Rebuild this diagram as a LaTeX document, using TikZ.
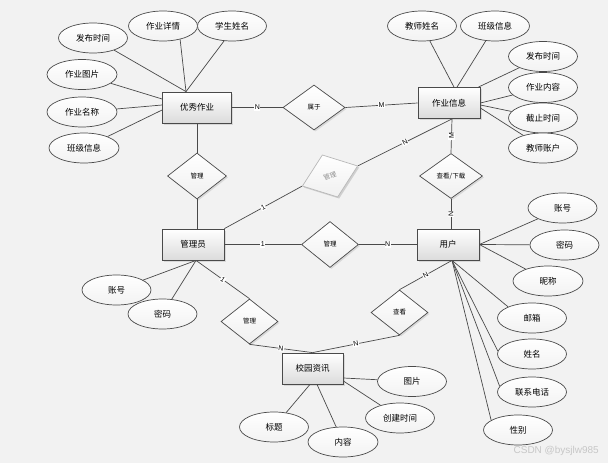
\documentclass[tikz,border=0pt]{standalone}
\usepackage{fontspec}
\setmainfont{Noto Sans CJK SC}
\newfontfamily\lat{Liberation Sans}
\usetikzlibrary{shapes.geometric,shadows,calc}
\definecolor{bg}{HTML}{F2F2F2}
\definecolor{ln}{HTML}{4A4A4A}
\begin{document}
\begin{tikzpicture}[x=1pt,y=-1pt,
  shd/.style={drop shadow={shadow xshift=1.5pt,shadow yshift=-1.5pt,opacity=0.22}},
  ent/.style={rectangle,draw=ln,line width=0.8pt,top color=white,bottom color=black!14,
    minimum width=62pt,minimum height=31pt,inner sep=0pt,font=\fontsize{8.5}{10}\selectfont,shd},
  rel/.style={diamond,draw=ln,line width=0.7pt,top color=white,bottom color=black!6,
    inner sep=0pt,font=\fontsize{6.5}{7}\selectfont,shd},
  att/.style={ellipse,draw=ln,line width=0.7pt,top color=white,bottom color=black!5,
    minimum width=69pt,minimum height=30pt,inner sep=0pt,font=\fontsize{8.5}{10}\selectfont},
  con/.style={draw=ln,line width=0.7pt},
  lab/.style={fill=white,inner sep=0.6pt,font=\lat\fontsize{7}{8}\selectfont}]
\fill[bg] (0,0) rectangle (608,463);
\useasboundingbox (0,0) rectangle (608,463);

% entities
\node[ent,minimum width=69pt] (yx) at (197,107.5) {优秀作业};
\node[ent] (zy) at (449,103) {作业信息};
\node[ent] (gly) at (193,244.5) {管理员};
\node[ent] (yh) at (448,244.5) {用户};
\node[ent,minimum width=61pt] (xy) at (312.5,368.5) {校园资讯};

% relationships
\node[rel,minimum width=62pt,minimum height=45pt] (sy) at (314,107.5) {属于};
\node[rel,minimum width=59pt,minimum height=46pt] (gl1) at (197,176) {管理};
\node[rel,draw=black!28,text=black!45,rotate=20,minimum width=59pt,minimum height=45pt,
  drop shadow={shadow xshift=1.5pt,shadow yshift=-1.5pt,opacity=0.1}] (gl2) at (330,176) {管理};
\node[rel,minimum width=63pt,minimum height=45pt] (ck) at (451,176) {查看/下载};
\node[rel,minimum width=57pt,minimum height=46pt] (gl3) at (330,244.5) {管理};
\node[rel,minimum width=57pt,minimum height=45pt] (gl4) at (249.5,321.5) {管理};
\node[rel,minimum width=57pt,minimum height=45pt] (ck2) at (399.5,312.5) {查看};

% helper points
\coordinate (yxT) at ($(yx.north)+(-11,0)$);
\coordinate (yxL1) at ($(yx.west)+(0,-8.5)$);
\coordinate (yxL2) at ($(yx.west)+(0,-2.5)$);
\coordinate (yxL3) at ($(yx.west)+(0,2.5)$);
\coordinate (zyT1) at ($(zy.north)+(5,0)$);
\coordinate (zyT2) at ($(zy.north)+(8,0)$);
\coordinate (zyS) at ($(zy.south)+(3,0)$);
\coordinate (zyR1) at ($(zy.north east)+(-2,0)$);
\coordinate (zyR2) at ($(zy.east)+(0,0)$);
\coordinate (zyR3) at ($(zy.east)+(0,2)$);
\coordinate (zyR4) at ($(zy.east)+(0,5)$);
\coordinate (glyB) at ($(gly.south)+(3,0)$);
\coordinate (yhB) at ($(yh.south)+(4,0)$);
\coordinate (xyR1) at ($(xy.east)+(0,9.5)$);
\coordinate (xyR2) at ($(xy.east)+(0,12.5)$);
\coordinate (xyB1) at ($(xy.south)+(4.5,0)$);
\coordinate (xyB2) at ($(xy.south)+(-2.5,0)$);

% attributes of 优秀作业
\node[att] (a1) at (93,38) {发布时间};
\node[att] (a2) at (163,26) {作业详情};
\node[att] (a3) at (232,26) {学生姓名};
\node[att,minimum width=70pt] (a4) at (82,74.5) {作业图片};
\node[att,minimum width=70pt] (a5) at (82,112) {作业名称};
\node[att,minimum width=70pt] (a6) at (84,148) {班级信息};
\draw[con] (a1) -- (yxT);
\draw[con] (a2.-38) -- (yxT);
\draw[con] (a3.-118) -- (yxT);
\draw[con] (a4) -- (yxL1);
\draw[con] (a5) -- (yxL2);
\draw[con] (a6) -- (yxL3);

% attributes of 作业信息
\node[att] (b1) at (422,26) {教师姓名};
\node[att] (b2) at (495,26) {班级信息};
\node[att] (b3) at (543,56.5) {发布时间};
\node[att] (b4) at (543,87.5) {作业内容};
\node[att] (b5) at (543,118) {截止时间};
\node[att] (b6) at (543,148) {教师账户};
\draw[con] (b1) -- (zyT1);
\draw[con] (b2) -- (zyT2);
\draw[con] (b3) -- (zyR1);
\draw[con] (b4) -- (zyR2);
\draw[con] (b5) -- (zyR3);
\draw[con] (b6) -- (zyR4);

% attributes of 管理员
\node[att] (c1) at (116.5,290) {账号};
\node[att] (c2) at (162.5,314) {密码};
\draw[con] (c1) -- (glyB);
\draw[con] (c2) -- (glyB);

% attributes of 用户
\node[att] (d1) at (562.5,208) {账号};
\node[att] (d2) at (564.5,245) {密码};
\node[att,minimum width=70pt] (d3) at (548,281) {昵称};
\node[att] (d4) at (532,318) {邮箱};
\node[att] (d5) at (532,354) {姓名};
\node[att] (d6) at (532,392) {联系电话};
\node[att] (d7) at (518,430) {性别};
\draw[con] (d1) -- (yh.east);
\draw[con] (d2) -- (yh.east);
\draw[con] (d3) -- (yh.east);
\draw[con] (d4.155) -- (yhB);
\draw[con] (d5.175) -- (yhB);
\draw[con] (d6.170) -- (yhB);
\draw[con] (d7.160) -- (yhB);

% attributes of 校园资讯
\node[att] (e1) at (412,381.5) {图片};
\node[att] (e2) at (400,418) {创建时间};
\node[att,minimum width=70pt] (e3) at (343,442) {内容};
\node[att] (e4) at (274,427) {标题};
\draw[con] (e1) -- (xyR1);
\draw[con] (e2) -- (xyR2);
\draw[con] (e3) -- (xyB1);
\draw[con] (e4) -- (xyB2);

% relationship connectors
\draw[con] (yx.east) -- node[lab]{N} (sy.west);
\draw[con] (sy.east) -- node[lab]{M} (zy.west);
\draw[con] (yx.south) -- (gl1.north);
\draw[con] (gl1.south) -- (gly.north -| gl1.south);
\draw[con] (gly.north east) -- node[lab,sloped]{1} (gl2.west);
\draw[con] (gl2.east) -- node[lab,sloped]{N} (zyS);
\draw[con] (zyS) -- node[lab,rotate=90]{M} (ck.north);
\draw[con] (ck.south) -- node[lab,rotate=90]{N} (yh.north -| ck.south);
\draw[con] (gly.east) -- node[lab]{1} (gl3.west);
\draw[con] (gl3.east) -- node[lab]{N} (yh.west);
\draw[con] (glyB) -- node[lab,sloped]{1} (gl4.north);
\draw[con] (gl4.south) -- node[lab,sloped]{N} (xy.north);
\draw[con] (ck2.north) -- node[lab,sloped]{N} (yhB);
\draw[con] (ck2.south) -- node[lab,sloped]{N} (xy.north);

% watermark
\node[font=\lat\fontsize{10}{11}\selectfont,text=black!22,anchor=east,inner sep=0pt] (wm) at (599,451) {CSDN @bysjlw985};
\end{tikzpicture}
\end{document}
